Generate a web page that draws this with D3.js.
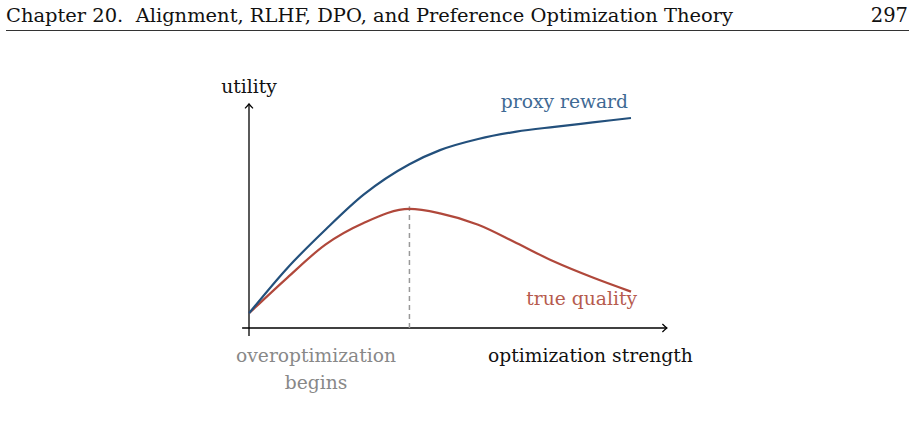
<!DOCTYPE html>
<html lang="en">
<head>
    <meta charset="UTF-8">
    <script src="https://cdn.jsdelivr.net/npm/d3@7"></script>
    <title>Proxy reward vs true quality</title>
    <style>
        body { margin: 0; background: white; }
        text { font-family: "DejaVu Serif", serif; }
    </style>
</head>
<body>
    <div id="chart"></div>
    <script>
        // values (x = optimization strength, y = utility)
        const strength = [0, 1, 2, 3, 4.2, 5, 6, 7, 8, 9, 10];
        const proxyReward = [0.70, 2.85, 4.68, 6.35, 7.8, 8.47, 9.0, 9.35, 9.58, 9.79, 10.0];
        const trueQuality = [0.70, 2.39, 3.97, 5.0, 5.67, 5.46, 4.92, 4.05, 3.15, 2.4, 1.73];
        const peakStrength = 4.2;
        const peakQuality = 5.8;

        const header = "Chapter 20.  Alignment, RLHF, DPO, and Preference Optimization Theory";
        const pageNo = "297";

        const W = 915, H = 433;
        const svg = d3.select("#chart").append("svg")
            .attr("width", W).attr("height", H)
            .attr("viewBox", `0 0 ${W} ${H}`);

        svg.append("rect").attr("width", W).attr("height", H).attr("fill", "white");

        // page header
        svg.append("text")
            .attr("x", 6).attr("y", 22)
            .attr("font-size", 19)
            .attr("textLength", 727).attr("lengthAdjust", "spacingAndGlyphs")
            .style("white-space", "pre")
            .attr("fill", "#111")
            .text(header);
        svg.append("text")
            .attr("x", 908).attr("y", 22)
            .attr("font-size", 19.5)
            .attr("text-anchor", "end")
            .attr("fill", "#111")
            .text(pageNo);
        svg.append("line")
            .attr("x1", 6).attr("x2", 909)
            .attr("y1", 30.5).attr("y2", 30.5)
            .attr("stroke", "#333").attr("stroke-width", 1);

        const x = d3.scaleLinear().domain([0, 10]).range([249, 631]);
        const y = d3.scaleLinear().domain([0, 10]).range([328, 118]);

        const defs = svg.append("defs");
        defs.append("marker")
            .attr("id", "arrow")
            .attr("viewBox", "-6 -5 8 10")
            .attr("refX", 0).attr("refY", 0)
            .attr("markerWidth", 8).attr("markerHeight", 10)
            .attr("markerUnits", "userSpaceOnUse")
            .attr("orient", "auto")
            .append("path")
            .attr("d", "M-4.5,-4 Q-1.5,-1 0,0 Q-1.5,1 -4.5,4")
            .attr("fill", "none")
            .attr("stroke", "black")
            .attr("stroke-width", 1.2);

        // axes
        svg.append("line")
            .attr("x1", x(-0.18)).attr("x2", x(10.94))
            .attr("y1", y(0)).attr("y2", y(0))
            .attr("stroke", "black").attr("stroke-width", 1.3)
            .attr("marker-end", "url(#arrow)");
        svg.append("line")
            .attr("x1", x(0)).attr("x2", x(0))
            .attr("y1", y(-0.38)).attr("y2", y(10.67))
            .attr("stroke", "black").attr("stroke-width", 1.3)
            .attr("marker-end", "url(#arrow)");

        // dashed marker where overoptimization begins
        svg.append("line")
            .attr("x1", x(peakStrength)).attr("x2", x(peakStrength))
            .attr("y1", y(0)).attr("y2", y(peakQuality))
            .attr("stroke", "#999").attr("stroke-width", 1.5)
            .attr("stroke-dasharray", "5,4");

        const line = vals => d3.line()
            .x((d, i) => x(strength[i]))
            .y(d => y(d))
            .curve(d3.curveMonotoneX)(vals);

        svg.append("path")
            .attr("d", line(trueQuality))
            .attr("fill", "none")
            .attr("stroke", "#b0483b")
            .attr("stroke-width", 2.2);
        svg.append("path")
            .attr("d", line(proxyReward))
            .attr("fill", "none")
            .attr("stroke", "#23507c")
            .attr("stroke-width", 2.2);

        // labels
        const fs = 18.7;
        svg.append("text")
            .attr("x", x(0)).attr("y", 93)
            .attr("font-size", fs).attr("text-anchor", "middle")
            .attr("fill", "#111")
            .text("utility");
        svg.append("text")
            .attr("x", 628).attr("y", 108)
            .attr("font-size", fs).attr("text-anchor", "end")
            .attr("fill", "#3f6a94")
            .text("proxy reward");
        svg.append("text")
            .attr("x", 637).attr("y", 305)
            .attr("font-size", fs).attr("text-anchor", "end")
            .attr("fill", "#b65b4e")
            .text("true quality");
        svg.append("text")
            .attr("x", 488).attr("y", 362)
            .attr("font-size", fs)
            .attr("fill", "#111")
            .text("optimization strength");
        const note = svg.append("text")
            .attr("font-size", fs).attr("text-anchor", "middle")
            .attr("fill", "#888");
        note.append("tspan").attr("x", 316).attr("y", 362).text("overoptimization");
        note.append("tspan").attr("x", 316).attr("y", 389).text("begins");
    </script>
</body>
</html>
